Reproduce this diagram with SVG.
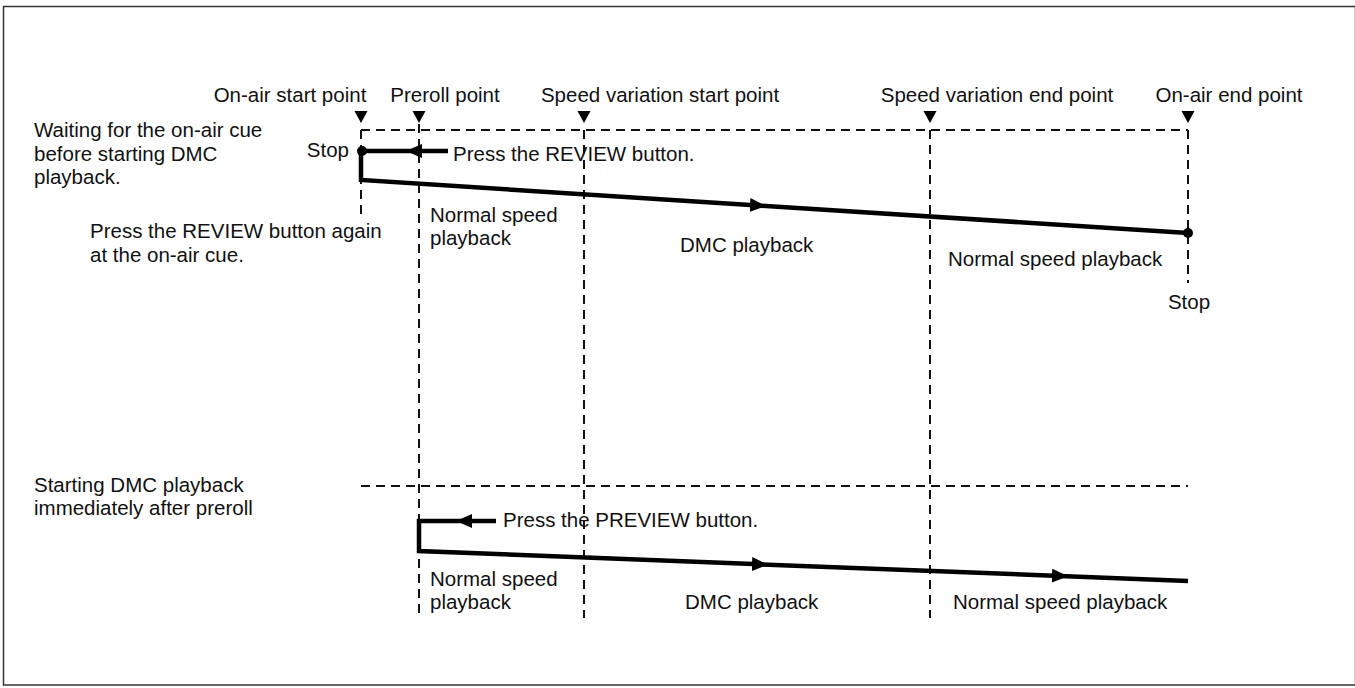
<svg xmlns="http://www.w3.org/2000/svg" width="1355" height="688" viewBox="0 0 1355 688">
<style>
text{font-family:"Liberation Sans",Arial,sans-serif;font-size:20.5px;fill:#111}
.m{text-anchor:middle}
.e{text-anchor:end}
.dash{stroke:#111;stroke-width:2;stroke-dasharray:9 6;fill:none}
.thick{stroke:#000;stroke-width:4.5;fill:none;stroke-linejoin:miter}
.tri{fill:#000}
</style>
<defs>
<marker id="ah" viewBox="0 0 16 14" refX="8" refY="7" markerWidth="16" markerHeight="14" markerUnits="userSpaceOnUse" orient="auto">
<path d="M0,0 L16,7 L0,14 z" fill="#000"/>
</marker>
</defs>
<rect x="3.5" y="6.5" width="1352" height="678.5" fill="#fff" stroke="#333" stroke-width="1.5"/>

<g id="guides">
<path class="dash" d="M361,130 H1188"/>
<path class="dash" d="M361,486 H1188"/>
<path class="dash" d="M361,130 V216"/>
<path class="dash" d="M419,124 V618"/>
<path class="dash" d="M584,130 V618"/>
<path class="dash" d="M930,130 V618"/>
<path class="dash" d="M1188,130 V283"/>
</g>

<g id="markers">
<polygon class="tri" points="354.5,111 367.5,111 361,123"/>
<polygon class="tri" points="412.5,111 425.5,111 419,123"/>
<polygon class="tri" points="577.5,111 590.5,111 584,123"/>
<polygon class="tri" points="923.5,111 936.5,111 930,123"/>
<polygon class="tri" points="1181.5,111 1194.5,111 1188,123"/>
</g>

<g id="point-labels">
<text class="m" x="290" y="102">On-air start point</text>
<text class="m" x="445" y="102">Preroll point</text>
<text class="m" x="660" y="102">Speed variation start point</text>
<text class="m" x="997" y="102">Speed variation end point</text>
<text class="m" x="1229" y="102">On-air end point</text>
</g>

<g id="connectors">
<path class="thick" d="M448,151 H414" marker-end="url(#ah)"/>
<path class="thick" d="M414,151 H361 V180 L758,205.5" marker-end="url(#ah)"/>
<path class="thick" d="M758,205.5 L1188,233"/>
<circle cx="362" cy="151" r="5" fill="#000"/>
<circle cx="1188" cy="233" r="5" fill="#000"/>

<path class="thick" d="M496,521 H464" marker-end="url(#ah)"/>
<path class="thick" d="M464,521 H419 V551 L760,564.3" marker-end="url(#ah)"/>
<path class="thick" d="M760,564.3 L1060,576" marker-end="url(#ah)"/>
<path class="thick" d="M1060,576 L1188,581"/>
</g>

<g id="scenario1">
<text x="34" y="137">Waiting for the on-air cue</text>
<text x="34" y="161">before starting DMC</text>
<text x="34" y="184">playback.</text>
<text class="e" x="349" y="157">Stop</text>
<text x="453" y="161">Press the REVIEW button.</text>
<text x="90" y="238">Press the REVIEW button again</text>
<text x="90" y="262">at the on-air cue.</text>
<text x="430" y="222">Normal speed</text>
<text x="430" y="245">playback</text>
<text x="680" y="252">DMC playback</text>
<text x="948" y="266">Normal speed playback</text>
<text class="m" x="1189" y="309">Stop</text>
</g>

<g id="scenario2">
<text x="34" y="492">Starting DMC playback</text>
<text x="34" y="515">immediately after preroll</text>
<text x="503" y="527">Press the PREVIEW button.</text>
<text x="430" y="586">Normal speed</text>
<text x="430" y="609">playback</text>
<text x="685" y="609">DMC playback</text>
<text x="953" y="609">Normal speed playback</text>
</g>
</svg>
